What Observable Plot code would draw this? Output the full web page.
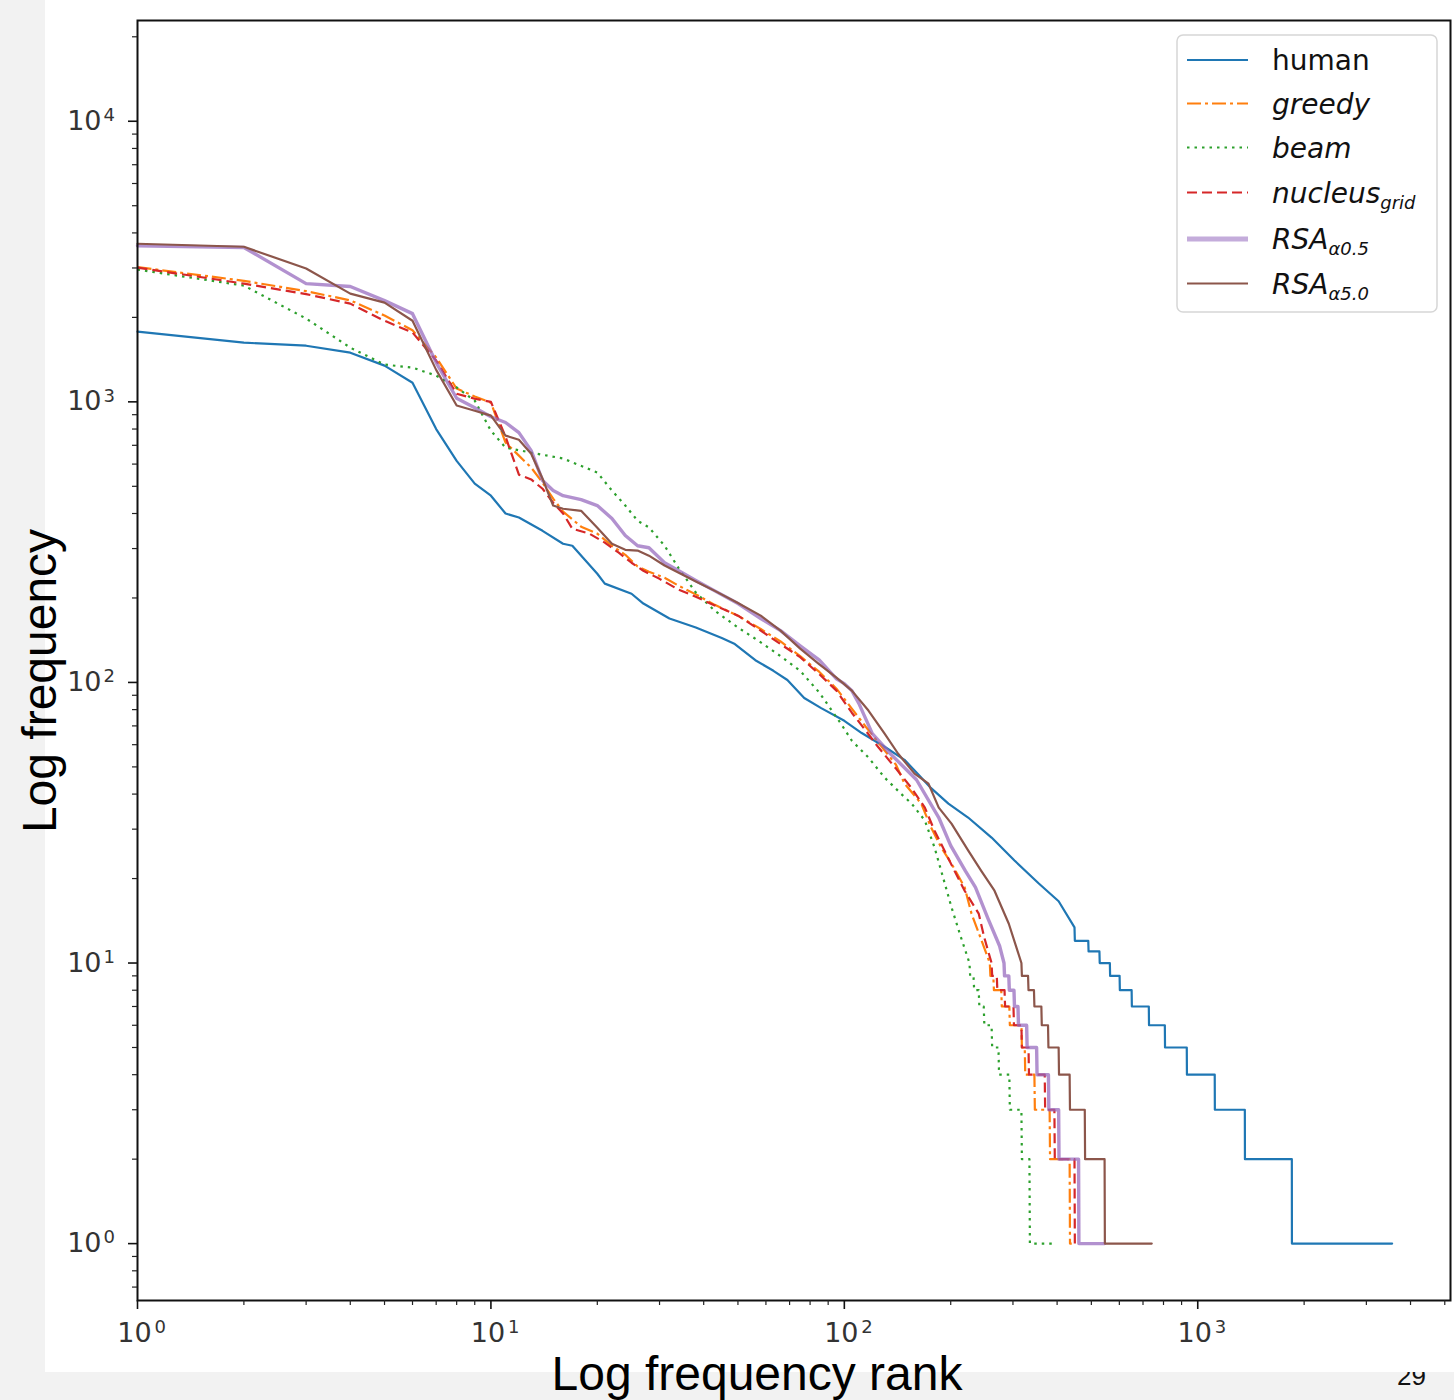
<!DOCTYPE html>
<html>
<head>
<meta charset="utf-8">
<script src="https://cdn.jsdelivr.net/npm/d3@7"></script>
<script src="https://cdn.jsdelivr.net/npm/@observablehq/plot@0.6"></script>
<style>
html, body { margin: 0; padding: 0; background: #f2f2f2; overflow: hidden; }
#page { position: relative; width: 1454px; height: 1400px; overflow: hidden; }
#pnum { position: absolute; left: 1397px; top: 1361px; font: 26px "Liberation Sans", Arial, sans-serif; color: #111; }
#white { position: absolute; left: 45px; top: 0; width: 1409px; height: 1372px; background: #fff; }
#chart { position: absolute; left: 0; top: 0; }
#chart svg { max-width: none; }
#overlay { position: absolute; left: 0; top: 0; pointer-events: none; }
</style>
</head>
<body>
<div id="page">
  <div id="pnum">29</div>
  <div id="white"></div>
  <div id="chart"></div>
  <svg id="overlay" width="1454" height="1400"></svg>
</div>
<script>
// ---------------- data (rank, frequency) ----------------
const humanRank = [1,2,3,4,5,6,7,8,9,10,11,12,14,16,17,20,21,25,27,32,38,45,49,56,63,69,77,86,100,112,130,148,162,176,197,224,261,303,355,404,448];
const humanFreq = [1780,1625,1585,1497,1346,1170,800,616,511,463,400,387,347,312,307,244,225,207,191,169,157,144,137,120,110,102,88,81,73,66,59,53,47,42,37,33,28,23.2,19.2,16.6,13.4];
const humanTailFreq = [12,11,10,9,8,7,6,5,4,3,2,1];
const humanTailEnd = [490,527,564,601,650,727,807,931,1117,1359,1846,3548];

const greedyRank = [1,2,3,4,5,6,7,8,9,10,11,12,13,14,15,16,18,20,22,24,26,28,31,34,38,43,50,58,66,75,85,95,105,115,125,140,148,165,176,188,201,219,229,249,258];
const greedyFreq = [3020,2700,2480,2300,2030,1800,1440,1115,1045,993,716,643,583,515,452,406,359,339,307,285,259,248,236,221,206,189,173,155,140,124,109,95,80.7,69.5,61,50.9,43.6,37,30.4,25.8,22.6,18.6,15,11.3,10];
const greedyTailFreq = [9,8,7,6,5,4,3,2,1];
const greedyTailEnd = [264,278,293,317,324,345,381,434,440];

const beamRank = [1,2,3,4,5,6,7,8,9,10,11,13,16,20,22,24,26,28,31,34,38,43,50,58,66,75,85,98,105,117,130,145,155,169,180,188,201,214,226];
const beamFreq = [2960,2596,1981,1560,1358,1324,1240,1125,1010,789,687,659,628,560,483,427,377,357,307,255,209,180,157,139,124,110,92,71,62,54,45.8,40,37,32.2,25.8,21.3,15.8,12.3,10];
const beamTailFreq = [9,8,7,6,5,4,3,2,1];
const beamTailEnd = [232,240,248,261,273,293,317,334,393];

const nucleusRank = [1,2,3,4,5,6,7,8,9,10,11,12,13,14,15,16,17,19,21,23,25,27,30,34,38,43,50,58,66,75,85,95,105,115,125,140,155,169,180,192,205,219,240,249,261];
const nucleusFreq = [3010,2638,2421,2239,1945,1766,1403,1069,1026,1000,751,550,529,490,437,400,353,339,315,290,267,250,234,214,202,188,173,153,137,123,107,93.5,78,67.3,58.6,49.3,42,35.8,29.6,25.2,21.3,18.1,15,12.3,10];
const nucleusTailFreq = [9,8,7,6,5,4,3,2,1];
const nucleusTailEnd = [270,284,301,317,332,369,393,448,454];

const rsa05Rank = [1,2,3,4,5,6,7,8,9,10,11,12,13,14,15,16,18,20,22,24,26,28,31,34,38,43,50,58,66,75,85,95,100,105,110,120,135,160,185,200,220,235,255,275,283];
const rsa05Freq = [3600,3550,2638,2576,2295,2062,1380,1030,953,885,844,777,670,524,483,463,448,427,384,334,307,302,267,250,231,212,191,169,153,135,120,103,99,93.5,84,65.7,55.7,45,33,26.2,21.3,18.6,14.4,11.5,10];
const rsa05TailFreq = [9,8,7,6,5,4,3,2,1];
const rsa05TailEnd = [292,302,310,328,350,378,404,460,545];

const rsa50Rank = [1,2,3,4,5,6,7,8,9,10,11,12,13,14,15,16,18,20,22,24,26,28,31,34,38,43,50,58,66,75,85,95,105,117,130,142,158,173,185,201,224,244,266,292,317];
const rsa50Freq = [3660,3570,2985,2431,2258,1945,1300,970,930,893,758,733,653,532,427,416,409,356,312,297,295,283,261,246,229,212,192,173,153,132,116,104,93.5,79.4,65.7,55.7,47.3,43.6,35.8,31.4,25.2,21.3,18.1,13.8,10];
const rsa50TailFreq = [9,8,7,6,5,4,3,2,1];
const rsa50TailEnd = [331,344,361,377,404,434,479,545,741];

// tick values
const xMajor = [1, 10, 100, 1000];
const yMajor = [1, 10, 100, 1000, 10000];

// legend labels
const legendMain = ["human", "greedy", "beam", "nucleus", "RSA", "RSA"];
const legendSub = [null, null, null, "grid", "α0.5", "α5.0"];
const legendItalic = [false, true, true, true, true, true];

// ---------------- styles ----------------
const seriesColor = ["#1f77b4", "#ff7f0e", "#2ca02c", "#d62728", "#9467bd", "#8c564b"];
const seriesDash = [null, "14,4,3,4", "2.5,5", "10,5", null, null];
const seriesWidth = [2.2, 2.2, 2.2, 2.2, 3.4, 2.2];
const seriesOpacity = [1, 1, 1, 1, 0.72, 1];

function points(ranks, freqs, tailFreqs, tailEnds) {
  const pts = ranks.map((r, i) => ({rank: r, freq: freqs[i]}));
  let prev = ranks[ranks.length - 1];
  tailFreqs.forEach((f, i) => {
    pts.push({rank: prev + 1, freq: f});
    pts.push({rank: tailEnds[i], freq: f});
    prev = tailEnds[i];
  });
  return pts;
}

const series = [
  points(humanRank, humanFreq, humanTailFreq, humanTailEnd),
  points(greedyRank, greedyFreq, greedyTailFreq, greedyTailEnd),
  points(beamRank, beamFreq, beamTailFreq, beamTailEnd),
  points(nucleusRank, nucleusFreq, nucleusTailFreq, nucleusTailEnd),
  points(rsa05Rank, rsa05Freq, rsa05TailFreq, rsa05TailEnd),
  points(rsa50Rank, rsa50Freq, rsa50TailFreq, rsa50TailEnd)
];

const xDomain = [1, 5190];
const yDomain = [0.627, 22860];

function minorTicks(domain) {
  const out = [];
  for (let k = -2; k <= 5; k++) {
    for (let m = 2; m <= 9; m++) {
      const v = m * Math.pow(10, k);
      if (v > domain[0] && v < domain[1]) out.push(v);
    }
  }
  return out;
}
const xMinor = minorTicks(xDomain);
const yMinor = minorTicks(yDomain);

const lineMarks = series.map((pts, i) => Plot.line(pts, {
  x: "rank", y: "freq",
  stroke: seriesColor[i],
  strokeWidth: seriesWidth[i],
  strokeOpacity: seriesOpacity[i],
  strokeDasharray: seriesDash[i] || undefined,
  strokeLinejoin: "round",
  strokeLinecap: seriesDash[i] ? "butt" : "round"
}));

const tickFont = "DejaVu Sans, sans-serif";
const chart = Plot.plot({
  width: 1454,
  height: 1400,
  marginLeft: 137,
  marginRight: 4,
  marginTop: 20,
  marginBottom: 100,
  style: {background: "transparent", overflow: "visible"},
  x: {type: "log", domain: xDomain},
  y: {type: "log", domain: yDomain},
  marks: [
    ...lineMarks,
    Plot.frame({stroke: "#111", strokeWidth: 2}),
    Plot.axisX(xMinor, {anchor: "bottom", tickSize: 5, tickFormat: () => "", strokeWidth: 1.2, stroke: "#222", label: null}),
    Plot.axisX(xMajor, {anchor: "bottom", tickSize: 9, tickFormat: () => "", strokeWidth: 1.6, stroke: "#111", label: null}),
    Plot.axisY(yMinor, {anchor: "left", tickSize: 5, tickFormat: () => "", strokeWidth: 1.2, stroke: "#222", label: null}),
    Plot.axisY(yMajor, {anchor: "left", tickSize: 9, tickFormat: () => "", strokeWidth: 1.6, stroke: "#111", label: null}),
    Plot.text(xMajor, {x: d => d, frameAnchor: "bottom", text: () => "10", dx: -3, dy: 33, fontSize: 27, fontFamily: tickFont, fill: "#333", textAnchor: "middle", lineAnchor: "middle"}),
    Plot.text(xMajor, {x: d => d, frameAnchor: "bottom", text: d => String(Math.round(Math.log10(d))), dx: 17, dy: 27, fontSize: 18, fontFamily: tickFont, fill: "#333", textAnchor: "start", lineAnchor: "middle"}),
    Plot.text(yMajor, {y: d => d, frameAnchor: "left", text: () => "10", dx: -36, dy: 0, fontSize: 27, fontFamily: tickFont, fill: "#333", textAnchor: "end", lineAnchor: "middle"}),
    Plot.text(yMajor, {y: d => d, frameAnchor: "left", text: d => String(Math.round(Math.log10(d))), dx: -34, dy: -6, fontSize: 18, fontFamily: tickFont, fill: "#333", textAnchor: "start", lineAnchor: "middle"})
  ]
});
document.getElementById("chart").appendChild(chart);

// ---------------- overlay: axis titles and legend ----------------
const ov = d3.select("#overlay");
const titleFont = "'Liberation Sans', Arial, sans-serif";
ov.append("text")
  .attr("transform", "translate(56,681) rotate(-90)")
  .attr("text-anchor", "middle")
  .attr("font-family", titleFont)
  .attr("font-size", 48)
  .attr("fill", "#000")
  .text("Log frequency");
ov.append("text")
  .attr("x", 757).attr("y", 1390)
  .attr("text-anchor", "middle")
  .attr("font-family", titleFont)
  .attr("font-size", 48)
  .attr("fill", "#000")
  .text("Log frequency rank");

const lg = ov.append("g");
lg.append("rect")
  .attr("x", 1177).attr("y", 35).attr("width", 260).attr("height", 277)
  .attr("rx", 6)
  .attr("fill", "#fff").attr("fill-opacity", 0.85)
  .attr("stroke", "#d6d6d6").attr("stroke-width", 1.5);
const rowY = [60, 103.5, 147.5, 192.5, 239, 283.5];
legendMain.forEach((name, i) => {
  const y = rowY[i];
  lg.append("line")
    .attr("x1", 1187).attr("x2", 1248).attr("y1", y).attr("y2", y)
    .attr("stroke", seriesColor[i])
    .attr("stroke-width", i === 4 ? 5 : seriesWidth[i])
    .attr("stroke-opacity", i === 4 ? 0.55 : 1)
    .attr("stroke-dasharray", seriesDash[i] || null);
  const t = lg.append("text")
    .attr("x", 1272).attr("y", y + 10)
    .attr("font-family", "'DejaVu Sans', sans-serif")
    .attr("font-size", 28)
    .attr("fill", "#111")
    .attr("font-style", legendItalic[i] ? "italic" : "normal");
  t.append("tspan").text(name);
  if (legendSub[i]) {
    t.append("tspan")
      .attr("font-size", 18)
      .attr("dy", 6)
      .text(legendSub[i]);
  }
});
</script>
</body>
</html>
